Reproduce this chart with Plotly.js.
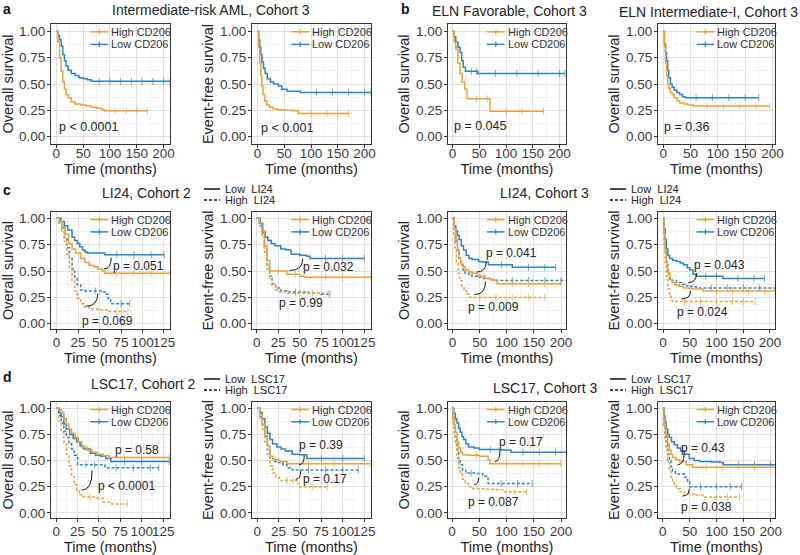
<!DOCTYPE html>
<html>
<head>
<meta charset="utf-8">
<script src="https://cdn.plot.ly/plotly-3.0.1.min.js"></script>
<style>
  html, body { margin: 0; padding: 0; background: #fff; }
  #graph { width: 800px; height: 555px; }
</style>
</head>
<body>
<div id="graph"></div>
<script>
// Kaplan-Meier step curves: t = months, s = survival probability
// naming: <panel>_<CD206 group>[_<signature group>]_t / _s   (hi = High, lo = Low)

// a: Intermediate-risk AML, Cohort 3
var a1_hi_t = [0, 3, 6, 9, 12, 15, 18, 22, 28, 35, 45, 55, 65, 75, 85, 90, 110, 130, 150, 170];
var a1_hi_s = [1, 0.9, 0.75, 0.62, 0.52, 0.45, 0.4, 0.37, 0.33, 0.31, 0.3, 0.29, 0.28, 0.27, 0.255, 0.245, 0.245, 0.245, 0.245, 0.245];
var a1_lo_t = [0, 3, 6, 9, 12, 15, 18, 22, 28, 35, 42, 50, 58, 65, 80, 100, 120, 140, 160, 180, 200, 212];
var a1_lo_s = [1, 0.96, 0.92, 0.86, 0.78, 0.72, 0.67, 0.63, 0.6, 0.58, 0.56, 0.55, 0.54, 0.525, 0.525, 0.525, 0.525, 0.525, 0.525, 0.525, 0.525, 0.525];

var a2_hi_t = [0, 2, 4, 6, 8, 10, 13, 17, 22, 28, 36, 50, 65, 76, 100, 130, 150, 170];
var a2_hi_s = [1, 0.85, 0.7, 0.58, 0.48, 0.4, 0.34, 0.3, 0.28, 0.265, 0.255, 0.25, 0.245, 0.22, 0.22, 0.22, 0.22, 0.22];
var a2_lo_t = [0, 2, 4, 6, 8, 11, 14, 18, 24, 30, 39, 45, 55, 80, 110, 140, 170, 200, 212];
var a2_lo_s = [1, 0.92, 0.85, 0.78, 0.71, 0.65, 0.6, 0.55, 0.52, 0.5, 0.48, 0.45, 0.43, 0.42, 0.42, 0.42, 0.42, 0.42, 0.42];

// b: ELN Favorable / ELN Intermediate-I, Cohort 3
var a3_hi_t = [0, 3, 6, 10, 14, 18, 23, 27, 45, 65, 70, 100, 130, 170];
var a3_hi_s = [1, 0.9, 0.83, 0.7, 0.6, 0.52, 0.45, 0.36, 0.36, 0.36, 0.24, 0.24, 0.24, 0.24];
var a3_lo_t = [0, 3, 6, 10, 14, 17, 20, 24, 35, 45, 47, 80, 120, 160, 200, 210];
var a3_lo_s = [1, 0.95, 0.9, 0.85, 0.8, 0.72, 0.66, 0.62, 0.62, 0.62, 0.6, 0.6, 0.6, 0.6, 0.6, 0.6];

var a4_hi_t = [0, 2, 4, 6, 8, 10, 13, 16, 20, 25, 30, 38, 45, 55, 80, 110, 140, 170, 195];
var a4_hi_s = [1, 0.85, 0.7, 0.58, 0.5, 0.46, 0.42, 0.4, 0.37, 0.34, 0.32, 0.31, 0.3, 0.29, 0.29, 0.29, 0.29, 0.29, 0.29];
var a4_lo_t = [0, 2, 4, 6, 8, 10, 13, 16, 20, 25, 30, 35, 40, 60, 90, 120, 150, 175];
var a4_lo_s = [1, 0.88, 0.8, 0.72, 0.63, 0.56, 0.5, 0.47, 0.44, 0.42, 0.4, 0.38, 0.37, 0.37, 0.37, 0.37, 0.37, 0.37];

// c: LI24, Cohort 2 (OS, EFS) and Cohort 3 (OS, EFS)
var c1_hi_lo_t = [0, 3, 6, 10, 14, 18, 22, 28, 33, 38, 43, 48, 53, 56, 70, 90, 110, 132];
var c1_hi_lo_s = [1, 0.97, 0.92, 0.85, 0.76, 0.71, 0.67, 0.62, 0.58, 0.555, 0.54, 0.52, 0.5, 0.48, 0.48, 0.48, 0.48, 0.48];
var c1_lo_lo_t = [0, 5, 9, 13, 18, 21, 24, 27, 30, 33, 36, 56, 70, 90, 110, 125];
var c1_lo_lo_s = [1, 0.97, 0.93, 0.89, 0.82, 0.79, 0.76, 0.73, 0.7, 0.68, 0.67, 0.655, 0.655, 0.655, 0.655, 0.655];
var c1_hi_hi_t = [0, 3, 6, 9, 12, 15, 18, 21, 24, 28, 32, 38, 48, 60, 70, 83];
var c1_hi_hi_s = [1, 0.95, 0.88, 0.78, 0.66, 0.53, 0.41, 0.31, 0.24, 0.19, 0.16, 0.14, 0.13, 0.115, 0.115, 0.115];
var c1_lo_hi_t = [0, 3, 6, 9, 12, 15, 18, 21, 24, 28, 33, 45, 52, 57, 60, 63, 75, 85];
var c1_lo_hi_s = [1, 0.96, 0.91, 0.82, 0.72, 0.62, 0.52, 0.44, 0.37, 0.32, 0.31, 0.31, 0.3, 0.28, 0.24, 0.19, 0.19, 0.19];

var c2_hi_lo_t = [0, 3, 6, 9, 12, 15, 25, 35, 45, 50, 56, 80, 100, 133];
var c2_hi_lo_s = [1, 0.96, 0.88, 0.74, 0.6, 0.5, 0.5, 0.47, 0.47, 0.45, 0.44, 0.44, 0.44, 0.44];
var c2_lo_lo_t = [0, 4, 7, 10, 13, 17, 21, 28, 34, 40, 50, 58, 62, 80, 100, 125];
var c2_lo_lo_s = [1, 0.95, 0.87, 0.82, 0.79, 0.76, 0.74, 0.71, 0.7, 0.66, 0.65, 0.64, 0.62, 0.62, 0.62, 0.62];
var c2_hi_hi_t = [0, 3, 6, 9, 12, 15, 18, 22, 27, 34, 50, 65, 83];
var c2_hi_hi_s = [1, 0.95, 0.84, 0.68, 0.52, 0.42, 0.36, 0.32, 0.3, 0.29, 0.29, 0.29, 0.29];
var c2_lo_hi_t = [0, 3, 6, 9, 12, 15, 18, 22, 28, 35, 45, 60, 75, 85];
var c2_lo_hi_s = [1, 0.93, 0.86, 0.72, 0.56, 0.45, 0.38, 0.34, 0.31, 0.3, 0.3, 0.29, 0.28, 0.28];

var c3_hi_lo_t = [0, 3, 6, 9, 12, 15, 18, 23, 30, 36, 45, 51, 60, 70, 82, 110, 140, 170, 200];
var c3_hi_lo_s = [1, 0.9, 0.8, 0.7, 0.62, 0.57, 0.54, 0.51, 0.49, 0.48, 0.46, 0.45, 0.43, 0.415, 0.38, 0.38, 0.38, 0.38, 0.38];
var c3_lo_lo_t = [0, 3, 6, 9, 12, 16, 20, 25, 30, 36, 48, 55, 66, 90, 110, 140, 170, 190];
var c3_lo_lo_s = [1, 0.93, 0.88, 0.84, 0.8, 0.74, 0.7, 0.65, 0.62, 0.61, 0.59, 0.585, 0.56, 0.56, 0.535, 0.535, 0.535, 0.535];
var c3_hi_hi_t = [0, 2, 4, 7, 10, 13, 17, 21, 26, 32, 50, 80, 110, 140, 170];
var c3_hi_hi_s = [1, 0.85, 0.72, 0.58, 0.48, 0.41, 0.35, 0.31, 0.28, 0.25, 0.25, 0.25, 0.25, 0.25, 0.25];
var c3_lo_hi_t = [0, 3, 6, 9, 12, 15, 19, 23, 30, 36, 45, 57, 70, 80, 110, 140, 170, 200, 210];
var c3_lo_hi_s = [1, 0.88, 0.78, 0.7, 0.62, 0.56, 0.51, 0.48, 0.46, 0.45, 0.44, 0.43, 0.42, 0.41, 0.41, 0.41, 0.41, 0.41, 0.41];

var c4_hi_lo_t = [0, 2, 4, 6, 8, 10, 13, 17, 22, 30, 38, 48, 56, 75, 100, 130, 160, 190, 210];
var c4_hi_lo_s = [1, 0.85, 0.7, 0.59, 0.52, 0.47, 0.42, 0.39, 0.37, 0.355, 0.34, 0.335, 0.33, 0.31, 0.31, 0.31, 0.31, 0.31, 0.31];
var c4_lo_lo_t = [0, 2, 4, 6, 9, 12, 18, 25, 32, 38, 45, 50, 56, 62, 80, 100, 112, 140, 170, 190];
var c4_lo_lo_s = [1, 0.9, 0.8, 0.71, 0.65, 0.62, 0.6, 0.59, 0.575, 0.56, 0.53, 0.51, 0.47, 0.45, 0.45, 0.45, 0.43, 0.43, 0.43, 0.43];
var c4_hi_hi_t = [0, 2, 4, 6, 9, 12, 15, 18, 40, 70, 100, 130, 150, 172];
var c4_hi_hi_s = [1, 0.75, 0.58, 0.45, 0.33, 0.26, 0.22, 0.21, 0.21, 0.21, 0.21, 0.21, 0.21, 0.21];
var c4_lo_hi_t = [0, 2, 4, 6, 9, 12, 17, 25, 35, 44, 52, 62, 90, 120, 150, 180, 210];
var c4_lo_hi_s = [1, 0.85, 0.68, 0.56, 0.48, 0.43, 0.41, 0.39, 0.375, 0.36, 0.35, 0.34, 0.34, 0.34, 0.34, 0.34, 0.34];

// d: LSC17, Cohort 2 (OS, EFS) and Cohort 3 (OS, EFS)
var d1_hi_lo_t = [0, 3, 6, 9, 12, 15, 18, 22, 26, 30, 36, 42, 48, 55, 62, 80, 100, 132];
var d1_hi_lo_s = [1, 0.99, 0.96, 0.9, 0.85, 0.8, 0.76, 0.72, 0.68, 0.63, 0.6, 0.58, 0.56, 0.545, 0.53, 0.53, 0.53, 0.53];
var d1_lo_lo_t = [0, 3, 6, 9, 12, 16, 20, 24, 28, 32, 40, 46, 52, 58, 64, 80, 100, 132];
var d1_lo_lo_s = [1, 0.96, 0.92, 0.85, 0.8, 0.75, 0.71, 0.68, 0.64, 0.61, 0.57, 0.55, 0.54, 0.52, 0.49, 0.49, 0.49, 0.49];
var d1_hi_hi_t = [0, 3, 6, 9, 12, 15, 18, 21, 24, 27, 30, 40, 48, 55, 65, 83];
var d1_hi_hi_s = [1, 0.88, 0.77, 0.66, 0.56, 0.45, 0.35, 0.27, 0.21, 0.17, 0.15, 0.15, 0.14, 0.1, 0.085, 0.085];
var d1_lo_hi_t = [0, 3, 6, 9, 12, 15, 18, 21, 25, 35, 45, 57, 70, 90, 110, 120];
var d1_lo_hi_s = [1, 0.93, 0.86, 0.78, 0.72, 0.67, 0.61, 0.55, 0.46, 0.46, 0.46, 0.43, 0.43, 0.43, 0.43, 0.43];

var d2_hi_lo_t = [0, 3, 6, 9, 12, 15, 18, 25, 35, 60, 90, 132];
var d2_hi_lo_s = [1, 0.94, 0.85, 0.74, 0.64, 0.54, 0.51, 0.49, 0.47, 0.47, 0.47, 0.47];
var d2_lo_lo_t = [0, 3, 6, 9, 12, 15, 18, 23, 28, 33, 41, 50, 58, 75, 100, 125];
var d2_lo_lo_s = [1, 0.96, 0.9, 0.82, 0.76, 0.7, 0.66, 0.63, 0.61, 0.59, 0.56, 0.555, 0.52, 0.52, 0.52, 0.52];
var d2_hi_hi_t = [0, 3, 6, 9, 12, 15, 18, 22, 26, 35, 42, 46, 50, 65, 82];
var d2_hi_hi_s = [1, 0.9, 0.8, 0.68, 0.56, 0.45, 0.38, 0.34, 0.31, 0.31, 0.31, 0.28, 0.25, 0.25, 0.25];
var d2_lo_hi_t = [0, 3, 6, 9, 12, 15, 19, 24, 30, 35, 41, 60, 80, 100, 118];
var d2_lo_hi_s = [1, 0.92, 0.84, 0.73, 0.6, 0.52, 0.49, 0.48, 0.46, 0.43, 0.41, 0.41, 0.41, 0.41, 0.41];

var d3_hi_lo_t = [0, 2, 4, 6, 9, 12, 15, 19, 30, 45, 50, 66, 69, 100, 130, 160, 199];
var d3_hi_lo_s = [1, 0.92, 0.84, 0.77, 0.68, 0.62, 0.58, 0.555, 0.55, 0.55, 0.54, 0.51, 0.47, 0.47, 0.47, 0.47, 0.47];
var d3_lo_lo_t = [0, 3, 6, 9, 12, 15, 18, 21, 25, 30, 40, 50, 70, 90, 108, 130, 160, 190, 210];
var d3_lo_lo_s = [1, 0.95, 0.9, 0.86, 0.81, 0.77, 0.73, 0.7, 0.66, 0.63, 0.62, 0.605, 0.605, 0.6, 0.58, 0.58, 0.58, 0.58, 0.58];
var d3_hi_hi_t = [0, 2, 4, 6, 9, 12, 15, 19, 24, 30, 38, 60, 81, 94, 115, 137];
var d3_hi_hi_s = [1, 0.85, 0.74, 0.65, 0.52, 0.43, 0.37, 0.32, 0.28, 0.25, 0.23, 0.225, 0.22, 0.2, 0.2, 0.2];
var d3_lo_hi_t = [0, 2, 4, 6, 9, 12, 15, 19, 25, 35, 44, 56, 66, 90, 120, 147];
var d3_lo_hi_s = [1, 0.9, 0.8, 0.71, 0.6, 0.52, 0.46, 0.41, 0.38, 0.38, 0.375, 0.35, 0.28, 0.28, 0.28, 0.28];

var d4_hi_lo_t = [0, 2, 4, 6, 9, 12, 15, 18, 24, 30, 43, 55, 80, 110, 140, 170, 210];
var d4_hi_lo_s = [1, 0.88, 0.8, 0.74, 0.66, 0.6, 0.56, 0.53, 0.51, 0.49, 0.46, 0.435, 0.435, 0.435, 0.435, 0.435, 0.435];
var d4_lo_lo_t = [0, 2, 4, 6, 9, 12, 16, 21, 27, 33, 40, 49, 58, 68, 90, 106, 112, 140, 170, 200, 210];
var d4_lo_lo_s = [1, 0.93, 0.87, 0.8, 0.75, 0.72, 0.68, 0.65, 0.62, 0.59, 0.56, 0.52, 0.5, 0.49, 0.485, 0.48, 0.46, 0.46, 0.46, 0.46, 0.46];
var d4_hi_hi_t = [0, 2, 4, 6, 9, 12, 15, 18, 21, 25, 32, 40, 62, 74, 100, 120, 142];
var d4_hi_hi_s = [1, 0.82, 0.7, 0.6, 0.48, 0.4, 0.34, 0.29, 0.26, 0.23, 0.2, 0.18, 0.17, 0.15, 0.15, 0.15, 0.15];
var d4_lo_hi_t = [0, 2, 4, 6, 9, 12, 15, 18, 23, 28, 40, 46, 50, 70, 100, 125, 146];
var d4_lo_hi_s = [1, 0.84, 0.74, 0.66, 0.56, 0.5, 0.44, 0.4, 0.38, 0.37, 0.34, 0.3, 0.25, 0.25, 0.25, 0.25, 0.25];

var groupNames = ['High CD206', 'Low CD206'];
var li24Names = ['Low  LI24', 'High  LI24'];
var lsc17Names = ['Low  LSC17', 'High  LSC17'];
var xTicks200 = [0, 50, 100, 150, 200];
var xTicks125 = [0, 25, 50, 75, 100, 125];
var yTicks = [0, 0.25, 0.5, 0.75, 1];

var ORANGE = '#EBA23E';
var BLUE = '#2B86BF';

// panel layout (pixel boxes in the 800x555 figure)
var W = 800, H = 555;
var colX = [[51, 170], [252, 371], [448, 566], [658, 775]];
var rowY = [[24, 144], [212, 329], [402, 518]];

// curve = [t, s, colour, dash]; p = [text, t, s]; arcs = [t1, s1, t2, s2]
var panels = [
  {r: 0, c: 0, yt: 'Overall survival', xr: [-10, 212], ticks: xTicks200,
   curves: [[a1_lo_t, a1_lo_s, BLUE, 'solid'], [a1_hi_t, a1_hi_s, ORANGE, 'solid']],
   p: [['p < 0.0001', 60, 0.09]], arcs: []},
  {r: 0, c: 1, yt: 'Event-free survival', xr: [-10.5, 212], ticks: xTicks200,
   curves: [[a2_lo_t, a2_lo_s, BLUE, 'solid'], [a2_hi_t, a2_hi_s, ORANGE, 'solid']],
   p: [['p < 0.001', 56, 0.085]], arcs: []},
  {r: 0, c: 2, yt: 'Overall survival', xr: [-8.5, 212], ticks: xTicks200,
   curves: [[a3_lo_t, a3_lo_s, BLUE, 'solid'], [a3_hi_t, a3_hi_s, ORANGE, 'solid']],
   p: [['p = 0.045', 52, 0.1]], arcs: []},
  {r: 0, c: 3, yt: 'Overall survival', xr: [-9.75, 204.75], ticks: xTicks200,
   curves: [[a4_lo_t, a4_lo_s, BLUE, 'solid'], [a4_hi_t, a4_hi_s, ORANGE, 'solid']],
   p: [['p = 0.36', 43, 0.09]], arcs: []},

  {r: 1, c: 0, yt: 'Overall survival', xr: [-6.5, 132], ticks: xTicks125,
   curves: [[c1_lo_hi_t, c1_lo_hi_s, BLUE, 'dash'], [c1_hi_hi_t, c1_hi_hi_s, ORANGE, 'dash'],
            [c1_lo_lo_t, c1_lo_lo_s, BLUE, 'solid'], [c1_hi_lo_t, c1_hi_lo_s, ORANGE, 'solid']],
   p: [['p = 0.051', 95, 0.55], ['p = 0.069', 59, 0.03]],
   arcs: [[55, 0.52, 63.5, 0.625], [34, 0.166, 48, 0.288]]},
  {r: 1, c: 1, yt: 'Event-free survival', xr: [-5.5, 133], ticks: xTicks125, sig: li24Names,
   curves: [[c2_lo_hi_t, c2_lo_hi_s, BLUE, 'dash'], [c2_hi_hi_t, c2_hi_hi_s, ORANGE, 'dash'],
            [c2_lo_lo_t, c2_lo_lo_s, BLUE, 'solid'], [c2_hi_lo_t, c2_hi_lo_s, ORANGE, 'solid']],
   p: [['p = 0.032', 83, 0.54], ['p = 0.99', 52, 0.2]],
   arcs: [[38, 0.505, 53.6, 0.617]]},
  {r: 1, c: 2, yt: 'Overall survival', xr: [-8.5, 209], ticks: xTicks200,
   curves: [[c3_lo_hi_t, c3_lo_hi_s, BLUE, 'dash'], [c3_hi_hi_t, c3_hi_hi_s, ORANGE, 'dash'],
            [c3_lo_lo_t, c3_lo_lo_s, BLUE, 'solid'], [c3_hi_lo_t, c3_hi_lo_s, ORANGE, 'solid']],
   p: [['p = 0.041', 109, 0.67], ['p = 0.009', 76, 0.157]],
   arcs: [[44, 0.49, 62, 0.59], [40, 0.277, 60.6, 0.40]]},
  {r: 1, c: 3, yt: 'Event-free survival', xr: [-9.5, 209.5], ticks: xTicks200, sig: li24Names,
   curves: [[c4_lo_hi_t, c4_lo_hi_s, BLUE, 'dash'], [c4_hi_hi_t, c4_hi_hi_s, ORANGE, 'dash'],
            [c4_lo_lo_t, c4_lo_lo_s, BLUE, 'solid'], [c4_hi_lo_t, c4_hi_lo_s, ORANGE, 'solid']],
   p: [['p = 0.043', 106, 0.56], ['p = 0.024', 74, 0.11]],
   arcs: [[47, 0.39, 62.6, 0.48], [34.5, 0.235, 51.4, 0.31]]},

  {r: 2, c: 0, yt: 'Overall survival', xr: [-6, 133], ticks: xTicks125,
   curves: [[d1_lo_hi_t, d1_lo_hi_s, BLUE, 'dash'], [d1_hi_hi_t, d1_hi_hi_s, ORANGE, 'dash'],
            [d1_lo_lo_t, d1_lo_lo_s, BLUE, 'solid'], [d1_hi_lo_t, d1_hi_lo_s, ORANGE, 'solid']],
   p: [['p = 0.58', 95, 0.6], ['p < 0.0001', 82, 0.254]],
   arcs: [[30, 0.217, 42, 0.405]]},
  {r: 2, c: 1, yt: 'Event-free survival', xr: [-6, 133], ticks: xTicks125, sig: lsc17Names,
   curves: [[d2_lo_hi_t, d2_lo_hi_s, BLUE, 'dash'], [d2_hi_hi_t, d2_hi_hi_s, ORANGE, 'dash'],
            [d2_lo_lo_t, d2_lo_lo_s, BLUE, 'solid'], [d2_hi_lo_t, d2_hi_lo_s, ORANGE, 'solid']],
   p: [['p = 0.39', 75, 0.65], ['p = 0.17', 79, 0.32]],
   arcs: [[49, 0.46, 55, 0.55], [45, 0.32, 51, 0.405]]},
  {r: 2, c: 2, yt: 'Overall survival', xr: [-7.5, 209], ticks: xTicks200,
   curves: [[d3_lo_hi_t, d3_lo_hi_s, BLUE, 'dash'], [d3_hi_hi_t, d3_hi_hi_s, ORANGE, 'dash'],
            [d3_lo_lo_t, d3_lo_lo_s, BLUE, 'solid'], [d3_hi_lo_t, d3_hi_lo_s, ORANGE, 'solid']],
   p: [['p = 0.17', 127, 0.676], ['p = 0.087', 76, 0.105]],
   arcs: [[78, 0.49, 88, 0.6], [40.6, 0.27, 48.7, 0.336]]},
  {r: 2, c: 3, yt: 'Event-free survival', xr: [-9, 208], ticks: xTicks200, sig: lsc17Names,
   curves: [[d4_lo_hi_t, d4_lo_hi_s, BLUE, 'dash'], [d4_hi_hi_t, d4_hi_hi_s, ORANGE, 'dash'],
            [d4_lo_lo_t, d4_lo_lo_s, BLUE, 'solid'], [d4_hi_lo_t, d4_hi_lo_s, ORANGE, 'solid']],
   p: [['p = 0.43', 74, 0.62], ['p = 0.038', 81, 0.06]],
   arcs: [[27, 0.46, 39.6, 0.57], [36, 0.16, 49, 0.228]]}
];

var FONT = 'Liberation Sans, Arial, sans-serif';
var TICKFONT = 13.5, TITLEFONT = 14.5;
var data = [];
var layout = {
  width: W, height: H,
  margin: {l: 0, r: 0, t: 0, b: 0},
  paper_bgcolor: '#fff', plot_bgcolor: '#fff',
  font: {family: FONT, color: '#333'},
  showlegend: false,
  shapes: [], annotations: []
};

function px(x) { return x / W; }
function py(y) { return 1 - y / H; }

panels.forEach(function (p, i) {
  var id = i === 0 ? '' : String(i + 1);
  var xb = colX[p.c], yb = rowY[p.r];
  var yr = p.r === 0 ? [-0.07, 1.07] : [-0.05, 1.06];
  var step = p.ticks[1] - p.ticks[0];

  layout['xaxis' + id] = {
    domain: [px(xb[0]), px(xb[1])], anchor: 'y' + id, range: p.xr,
    tickmode: 'array', tickvals: p.ticks, tickangle: 0,
    ticks: 'outside', ticklen: 3, tickcolor: '#333', tickwidth: 1,
    ticklabelstandoff: p.r === 0 ? -6 : -2,
    showline: true, mirror: true, linecolor: '#333', linewidth: 1,
    showgrid: true, gridcolor: '#E0E0E0', gridwidth: 1, zeroline: false,
    minor: {tickmode: 'linear', tick0: step / 2, dtick: step, showgrid: true, gridcolor: '#EEEEEE', gridwidth: 0.7, ticks: ''},
    tickfont: {size: TICKFONT, color: '#3a3a3a', family: FONT},
    title: {text: 'Time (months)', font: {size: TITLEFONT, color: '#222', family: FONT}, standoff: 0},
    automargin: false, fixedrange: true
  };
  layout['yaxis' + id] = {
    domain: [py(yb[1]), py(yb[0])], anchor: 'x' + id, range: yr,
    tickmode: 'array', tickvals: yTicks, ticktext: ['0.00', '0.25', '0.50', '0.75', '1.00'],
    ticks: 'outside', ticklen: 3, tickcolor: '#333', tickwidth: 1, ticklabelstandoff: -1,
    showline: true, mirror: true, linecolor: '#333', linewidth: 1,
    showgrid: true, gridcolor: '#E0E0E0', gridwidth: 1, zeroline: false,
    minor: {tickmode: 'linear', tick0: 0.125, dtick: 0.25, showgrid: true, gridcolor: '#EEEEEE', gridwidth: 0.7, ticks: ''},
    tickfont: {size: TICKFONT, color: '#3a3a3a', family: FONT},
    title: {text: p.yt, font: {size: TITLEFONT, color: '#222', family: FONT}, standoff: 2},
    automargin: false, fixedrange: true
  };

  p.curves.forEach(function (cv) {
    var t = cv[0], s = cv[1];
    // censoring ticks where the curve does not drop
    var sizes = s.map(function (v, k) { return (k > 0 && v === s[k - 1]) ? 5 : 0; });
    data.push({
      type: 'scatter', mode: 'lines+markers', x: t, y: s,
      xaxis: 'x' + id, yaxis: 'y' + id,
      line: {shape: 'hv', color: cv[2], width: 1.5, dash: cv[3] === 'dash' ? '3px,2px' : 'solid'},
      marker: {symbol: 'line-ns-open', size: sizes, color: cv[2], line: {color: cv[2], width: 1}},
      hoverinfo: 'skip', showlegend: false
    });
  });

  // CD206 legend inside the panel
  [ORANGE, BLUE].forEach(function (col, k) {
    var yy = k === 0 ? 0.935 : 0.83;
    layout.shapes.push({type: 'line', xref: 'x' + id + ' domain', yref: 'y' + id + ' domain',
      x0: 0.33, x1: 0.48, y0: yy, y1: yy, line: {color: col, width: 1.5}});
    layout.shapes.push({type: 'line', xref: 'x' + id + ' domain', yref: 'y' + id + ' domain',
      x0: 0.405, x1: 0.405, y0: yy - 0.022, y1: yy + 0.022, line: {color: col, width: 1.2}});
    layout.annotations.push({xref: 'x' + id + ' domain', yref: 'y' + id + ' domain',
      x: 0.49, y: yy, xanchor: 'left', yanchor: 'middle', showarrow: false,
      text: groupNames[k], font: {size: 11, color: '#333', family: FONT}});
  });

  p.p.forEach(function (q) {
    layout.annotations.push({xref: 'x' + id, yref: 'y' + id, x: q[1], y: q[2],
      xanchor: 'center', yanchor: 'middle', showarrow: false, text: q[0],
      font: {size: p.r === 0 ? 12.5 : 12, color: '#222', family: FONT}});
  });

  p.arcs.forEach(function (a) {
    layout.shapes.push({type: 'path', xref: 'x' + id, yref: 'y' + id,
      path: 'M' + a[0] + ',' + a[1] + ' Q' + a[2] + ',' + a[1] + ' ' + a[2] + ',' + a[3],
      line: {color: '#111', width: 1}});
  });

  // line-type legend above the EFS panels of rows c and d
  if (p.sig) {
    var lx = xb[0] - 48, ly = yb[0] - 23;
    [0, 1].forEach(function (k) {
      var yy = ly + k * 11;
      layout.shapes.push({type: 'line', xref: 'paper', yref: 'paper',
        x0: px(lx), x1: px(lx + 16), y0: py(yy), y1: py(yy),
        line: {color: '#111', width: 1.5, dash: k === 0 ? 'solid' : '3px,2px'}});
      layout.annotations.push({xref: 'paper', yref: 'paper', x: px(lx + 19), y: py(yy),
        xanchor: 'left', yanchor: 'middle', showarrow: false, text: p.sig[k],
        font: {size: 11, color: '#222', family: FONT}});
    });
  }
});

// panel titles and letters
var titles = [
  ['Intermediate-risk AML, Cohort 3', 211, 10],
  ['ELN Favorable, Cohort 3', 509, 11],
  ['ELN Intermediate-I, Cohort 3', 708, 12],
  ['LI24, Cohort 2', 146, 193],
  ['LI24, Cohort 3', 544, 193],
  ['LSC17, Cohort 2', 143, 384],
  ['LSC17, Cohort 3', 545, 388]
];
titles.forEach(function (t) {
  layout.annotations.push({xref: 'paper', yref: 'paper', x: px(t[1]), y: py(t[2]),
    xanchor: 'center', yanchor: 'middle', showarrow: false, text: t[0],
    font: {size: 14, color: '#222', family: FONT}});
});
var letters = [['a', 7, 9], ['b', 405, 9], ['c', 7, 190], ['d', 7, 377]];
letters.forEach(function (t) {
  layout.annotations.push({xref: 'paper', yref: 'paper', x: px(t[1]), y: py(t[2]),
    xanchor: 'center', yanchor: 'middle', showarrow: false, text: '<b>' + t[0] + '</b>',
    font: {size: 14, color: '#111', family: FONT}});
});

Plotly.newPlot('graph', data, layout, {staticPlot: true, displayModeBar: false});
</script>
</body>
</html>
